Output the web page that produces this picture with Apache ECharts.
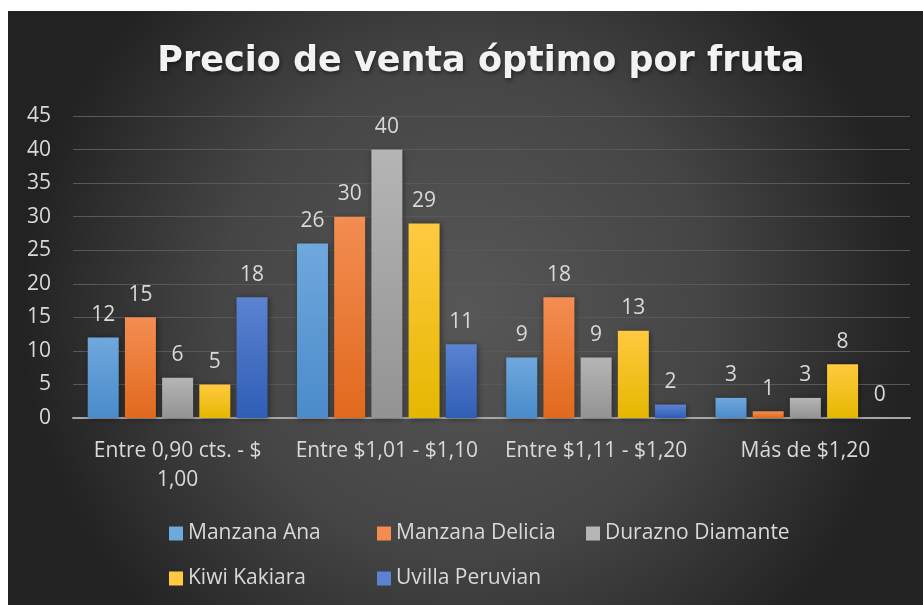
<!DOCTYPE html>
<html>
<head>
<meta charset="utf-8">
<script src="https://cdn.jsdelivr.net/npm/echarts@6/dist/echarts.min.js"></script>
<style>
html,body{margin:0;padding:0;background:#fff;width:923px;height:605px;overflow:hidden;}
#c{position:absolute;left:8px;top:11px;width:915px;height:594px;}
</style>
</head>
<body>
<div id="c"></div>
<script>
const categories = ['Entre 0,90 cts. - $ 1,00', 'Entre $1,01 - $1,10', 'Entre $1,11 - $1,20', 'Más de $1,20'];
const seriesNames = ['Manzana Ana', 'Manzana Delicia', 'Durazno Diamante', 'Kiwi Kakiara', 'Uvilla Peruvian'];
const manzanaAna = [12, 26, 9, 3];
const manzanaDelicia = [15, 30, 18, 1];
const duraznoDiamante = [6, 40, 9, 3];
const kiwiKakiara = [5, 29, 13, 8];
const uvillaPeruvian = [18, 11, 2, 0];
const yTicks = [0, 5, 10, 15, 20, 25, 30, 35, 40, 45];

const values = [manzanaAna, manzanaDelicia, duraznoDiamante, kiwiKakiara, uvillaPeruvian];
const grads = [
  ['#6fa8dd', '#4a8bca'],
  ['#f38d52', '#e1691d'],
  ['#b5b5b5', '#939393'],
  ['#ffca40', '#e6b700'],
  ['#5b83d0', '#2f5eb6']
];
const font = 'Open Sans';
const chart = echarts.init(document.getElementById('c'));

const series = values.map((v, i) => ({
  name: seriesNames[i],
  type: 'bar',
  data: v,
  barWidth: 31,
  barGap: '20%',
  itemStyle: {
    color: new echarts.graphic.LinearGradient(0, 0, 0, 1, [
      {offset: 0, color: grads[i][0]},
      {offset: 1, color: grads[i][1]}
    ]),
    shadowColor: 'rgba(0,0,0,0.45)',
    shadowBlur: 6,
    shadowOffsetX: 1,
    shadowOffsetY: 1
  },
  label: {
    show: true,
    position: 'top',
    distance: 12,
    color: '#d9d9d9',
    fontSize: 21,
    fontFamily: font
  }
}));

const legendCols = [[0, 3], [1, 4], [2]];
const legendLeft = [161, 369, 578];
const legends = legendCols.map((col, k) => ({
  orient: 'vertical',
  left: legendLeft[k],
  top: 512,
  padding: 0,
  itemGap: 24,
  itemWidth: 14,
  itemHeight: 14,
  icon: 'rect',
  data: col.map(i => ({name: seriesNames[i], itemStyle: {color: grads[i][0]}})),
  textStyle: {color: '#d9d9d9', fontSize: 21, fontFamily: font},
  selectedMode: false
}));

chart.setOption({
  backgroundColor: {
    type: 'radial', x: 0.5, y: 0.5, r: 0.75,
    colorStops: [
      {offset: 0, color: '#575757'},
      {offset: 0.55, color: '#454545'},
      {offset: 1, color: '#222222'}
    ]
  },
  title: {
    text: 'Precio de venta óptimo por fruta',
    left: 468,
    textAlign: 'center',
    top: 28,
    textStyle: {
      color: '#f2f2f2', fontSize: 35, fontWeight: 'bold', fontFamily: 'DejaVu Sans',
      textShadowColor: 'rgba(0,0,0,0.5)', textShadowBlur: 4, textShadowOffsetX: 1, textShadowOffsetY: 2
    }
  },
  legend: legends,
  grid: {left: 65, right: 13, top: 105, bottom: 187, containLabel: false},
  xAxis: {
    type: 'category',
    data: categories,
    axisLine: {lineStyle: {color: '#a6a6a6', width: 2}},
    axisTick: {show: false},
    axisLabel: {
      color: '#d9d9d9', fontSize: 21, fontFamily: font, margin: 19,
      interval: 0, lineHeight: 29,
      formatter: v => v.replace('$ ', '$\n')
    }
  },
  yAxis: {
    type: 'value',
    min: yTicks[0],
    max: yTicks[yTicks.length - 1],
    interval: 5,
    axisLine: {show: false},
    axisTick: {show: false},
    splitLine: {lineStyle: {color: '#595959', width: 1}},
    axisLabel: {color: '#d9d9d9', fontSize: 21, fontFamily: font, margin: 22}
  },
  series: series
});
</script>
</body>
</html>
